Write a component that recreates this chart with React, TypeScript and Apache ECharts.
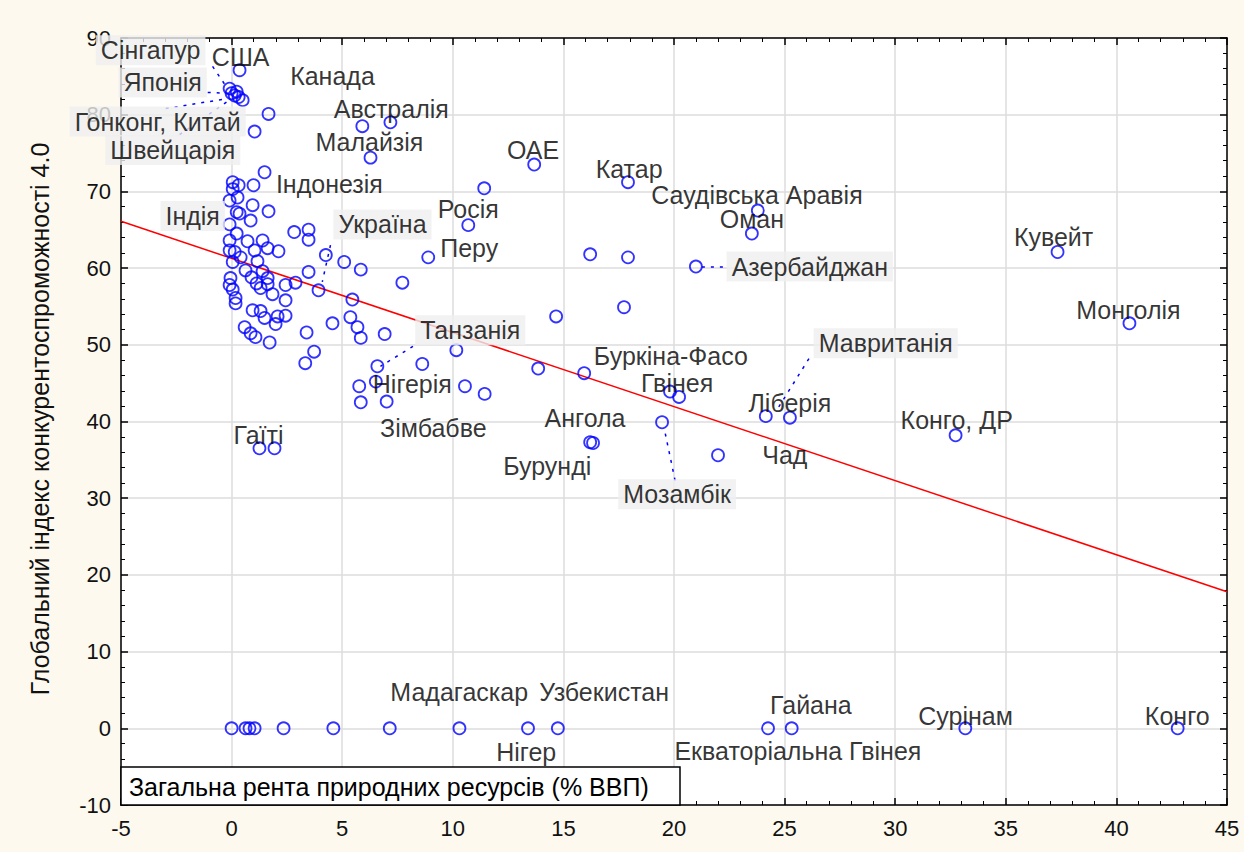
import React, { useEffect, useRef } from "react";
import * as echarts from "echarts";

// Scatter points: natural resource rents (% GDP) vs GCI 4.0
const pointsX: number[] = [
  0.36, -0.09, 0.0, 0.14, 0.32, 0.5, 0.23, 1.67, 1.04, 5.91, 7.18, 6.28, 13.68, 17.92, 11.42,
  23.79, 23.52, 20.99, 37.34, 40.59, 32.73, 10.7, 8.89, 16.21, 17.92, 17.74, 14.67, 13.86, 15.94,
  19.82, 20.23, 19.46, 16.21, 16.34, 21.99, 24.15, 25.24, 1.26, 1.94,
  2.83, 3.48, 3.48, 4.26, 5.09, 5.84, 3.48, 7.72, 2.44, 2.89, 3.93, 5.46, 2.44, 2.44, 4.56, 5.37,
  5.69, 5.84, 6.92, 3.39, 3.73, 3.33, 6.59, 8.62, 10.16, 5.77, 6.52, 5.84, 7.01, 10.55, 11.44,
  0.05, 0.32, 0.99, 0.05, -0.09, 0.27, 0.95, 1.67, 0.23, 0.36, -0.09, 0.86, 0.23, -0.09, 0.72, 1.4,
  0.14, -0.09, 1.04, 1.63, 2.12, 0.41, 1.17, 0.05, 0.63, 1.4, -0.05, -0.09, 0.9, 1.13, 1.63, 1.63,
  0.05, 0.18, 0.18, 1.31, 1.85, 0.95, 1.31, 2.08, 1.49, 1.99, 0.59, 0.86, 1.08, 1.72, 1.49,
  0.0, 0.63, 0.81, 1.04, 2.35, 4.6, 7.15, 10.3, 13.4, 14.75, 24.25, 25.32, 33.17, 42.77,
];
const pointsY: number[] = [
  85.8, 83.4, 82.8, 82.5, 82.3, 81.9, 83.0, 80.1, 77.8, 78.5, 79.0, 74.4, 73.5, 71.2, 70.4,
  67.5, 64.5, 60.2, 62.1, 52.8, 38.2, 65.6, 61.4, 61.8, 61.4, 54.9, 53.7, 46.9, 46.3,
  43.9, 43.2, 39.9, 37.3, 37.2, 35.6, 40.7, 40.5, 36.5, 36.5,
  64.7, 65.0, 63.7, 61.7, 60.8, 59.8, 59.5, 58.1, 57.8, 58.1, 57.1, 55.9, 55.8, 53.8, 52.8, 53.6,
  52.3, 50.9, 51.4, 51.6, 49.1, 47.6, 47.2, 47.5, 49.3, 44.6, 45.2, 42.5, 42.6, 44.6, 43.6,
  71.2, 70.8, 70.8, 70.3, 68.8, 69.2, 68.2, 67.4, 67.3, 67.1, 65.7, 66.2, 64.5, 63.6, 63.5, 63.6,
  62.1, 62.3, 62.3, 62.6, 62.2, 61.4, 60.9, 60.8, 59.7, 59.6, 58.7, 57.8, 58.8, 58.0, 58.7, 57.9,
  57.2, 56.1, 55.4, 57.4, 56.6, 54.5, 54.4, 53.7, 53.5, 52.7, 52.3, 51.5, 51.0, 50.3, 72.5,
  0, 0, 0, 0, 0, 0, 0, 0, 0, 0, 0, 0, 0, 0,
];

// Regression line end points
const regX: number[] = [-5, 45];
const regY: number[] = [66.1, 17.8];

// Country labels: anchor (value coordinates), boxed flag
const labelNames: string[] = [
  "Сінгапур", "США", "Канада", "Японія", "Гонконг, Китай", "Австралія", "Швейцарія", "Малайзія",
  "ОАЕ", "Катар", "Саудівська Аравія", "Індонезія", "Оман", "Індія", "Росія", "Україна", "Перу",
  "Кувейт", "Азербайджан", "Монголія", "Танзанія", "Мавританія", "Буркіна-Фасо", "Нігерія",
  "Гвінея", "Ліберія", "Ангола", "Зімбабве", "Конго, ДР", "Гаїті", "Бурунді", "Чад", "Мозамбік",
  "Мадагаскар", "Узбекистан", "Нігер", "Гайана", "Екваторіальна Гвінея", "Сурінам", "Конго",
];
const labelX: number[] = [
  -3.66, 0.41, 4.56, -3.12, -3.34, 7.22, -2.66, 6.23,
  13.63, 17.97, 23.75, 4.42, 23.52, -1.76, 10.7, 6.82, 10.74,
  37.16, 26.14, 40.54, 10.79, 29.57, 19.86, 8.17,
  20.14, 25.24, 15.98, 9.12, 32.78, 1.22, 14.27, 25.01, 20.14,
  10.29, 16.84, 13.32, 26.19, 25.6, 33.18, 42.75,
];
const labelY: number[] = [
  88.4, 87.5, 85.0, 84.2, 79.1, 80.8, 75.4, 76.4,
  75.4, 72.9, 69.5, 70.9, 66.4, 66.8, 67.7, 65.7, 62.6,
  64.0, 60.2, 54.5, 51.9, 50.2, 48.5, 44.9,
  45.0, 42.4, 40.5, 39.2, 40.2, 38.2, 34.2, 35.6, 30.5,
  4.7, 4.7, -3.1, 3.0, -3.0, 1.6, 1.6,
];
const labelBoxed: boolean[] = [
  true, false, false, true, true, false, true, false,
  false, false, false, false, false, true, false, true, false,
  false, true, false, true, true, false, false,
  false, false, false, false, false, false, false, false, true,
  false, false, false, false, false, false, false,
];

// Dotted leader lines [x1, y1, x2, y2]
const leaders: number[][] = [
  [-0.86, 86.3, -0.18, 83.4],
  [-1.08, 82.9, -0.09, 82.8],
  [-2.98, 80.8, -0.18, 82.1],
  [-2.35, 77.4, -0.05, 82.0],
  [4.47, 63.0, 4.1, 58.2],
  [8.2, 49.8, 6.73, 47.2],
  [21.26, 60.2, 22.3, 60.2],
  [26.1, 48.2, 24.65, 41.5],
  [20.05, 32.3, 19.55, 39.2],
];

const xTitle = "Загальна рента природних ресурсів (% ВВП)";
const yTitle = "Глобальний індекс конкурентоспроможності 4.0";

export default function App() {
  const ref = useRef<HTMLDivElement>(null);
  useEffect(() => {
    document.body.style.margin = "0";
    if (!ref.current) return;
    const chart = echarts.init(ref.current, null, { renderer: "svg" });
    const font = "'Liberation Sans', Arial, sans-serif";
    const gridLeft = 121, gridRight = 17, gridTop = 38, gridBottom = 47;
    const axisCommon = {
      axisLine: { show: true, onZero: false, lineStyle: { color: "#000", width: 1.5 } },
      axisTick: { show: true, inside: true, length: 7, lineStyle: { color: "#000", width: 1.5 } },
      minorTick: { show: true, splitNumber: 5, length: 4, lineStyle: { color: "#000", width: 1 } },
    };
    const xMain = {
      type: "value", min: -5, max: 45, interval: 5, position: "bottom",
      ...axisCommon,
      axisLabel: { color: "#111", fontSize: 22, fontFamily: font, margin: 12 },
      splitLine: { show: true, lineStyle: { color: "#dcdcdc", width: 1.5 } },
    };
    const xTop = {
      type: "value", min: -5, max: 45, interval: 5, position: "top",
      ...axisCommon, axisLabel: { show: false }, splitLine: { show: false },
    };
    const yMain = {
      type: "value", min: -10, max: 90, interval: 10, position: "left",
      ...axisCommon,
      axisLabel: { color: "#111", fontSize: 22, fontFamily: font, margin: 10 },
      splitLine: { show: true, lineStyle: { color: "#dcdcdc", width: 1.5 } },
    };
    const yRight = {
      type: "value", min: -10, max: 90, interval: 10, position: "right",
      ...axisCommon, axisLabel: { show: false }, splitLine: { show: false },
    };
    const pts = pointsX.map((x, i) => [x, pointsY[i]]);
    const labels = labelNames.map((n, i) => ({
      name: n,
      value: [labelX[i], labelY[i]],
      label: labelBoxed[i]
        ? { backgroundColor: "#efefef", padding: [3, 5, 2, 5] }
        : { padding: 0 },
    }));
    const option: any = {
      animation: false,
      backgroundColor: "#fdf9ee",
      grid: { left: gridLeft, right: gridRight, top: gridTop, bottom: gridBottom, show: true, backgroundColor: "#fff", borderWidth: 0 },
      xAxis: [xMain, xTop],
      yAxis: [yMain, yRight],
      series: [
        {
          type: "line",
          data: regX.map((x, i) => [x, regY[i]]),
          symbol: "none",
          lineStyle: { color: "#ff0000", width: 1.5 },
          z: 2,
        },
        {
          type: "scatter",
          data: pts,
          symbol: "circle",
          symbolSize: 12,
          itemStyle: { color: "rgba(255,255,255,0)", borderColor: "#0000ff", borderWidth: 1.8 },
          z: 3,
        },
        {
          type: "lines",
          coordinateSystem: "cartesian2d",
          data: leaders.map((l) => ({ coords: [[l[0], l[1]], [l[2], l[3]]] })),
          lineStyle: { color: "#0000ff", width: 1.5, type: [3, 6], opacity: 1 },
          z: 3,
        },
        {
          type: "scatter",
          data: labels,
          symbolSize: 1,
          itemStyle: { color: "rgba(0,0,0,0)" },
          label: {
            show: true,
            position: "inside",
            formatter: (p: any) => p.name,
            color: "#000",
            fontSize: 25,
            fontFamily: font,
            align: "center",
            verticalAlign: "middle",
          },
          z: 5,
        },
      ],
      graphic: [
        {
          type: "text",
          x: 40,
          y: 419,
          rotation: Math.PI / 2,
          style: {
            text: yTitle,
            fill: "#111",
            fontSize: 25,
            fontFamily: font,
            align: "center",
            verticalAlign: "middle",
          },
        },
        {
          type: "rect",
          shape: { x: 121, y: 767, width: 559, height: 38 },
          style: { fill: "#fff", stroke: "#000", lineWidth: 1.5 },
          z: 10,
        },
        {
          type: "text",
          x: 129,
          y: 787,
          style: {
            text: xTitle,
            fill: "#000",
            fontSize: 25,
            fontFamily: font,
            align: "left",
            verticalAlign: "middle",
          },
          z: 11,
        },
      ],
    };
    chart.setOption(option);
    return () => chart.dispose();
  }, []);
  return <div ref={ref} style={{ width: 1244, height: 852 }} />;
}
